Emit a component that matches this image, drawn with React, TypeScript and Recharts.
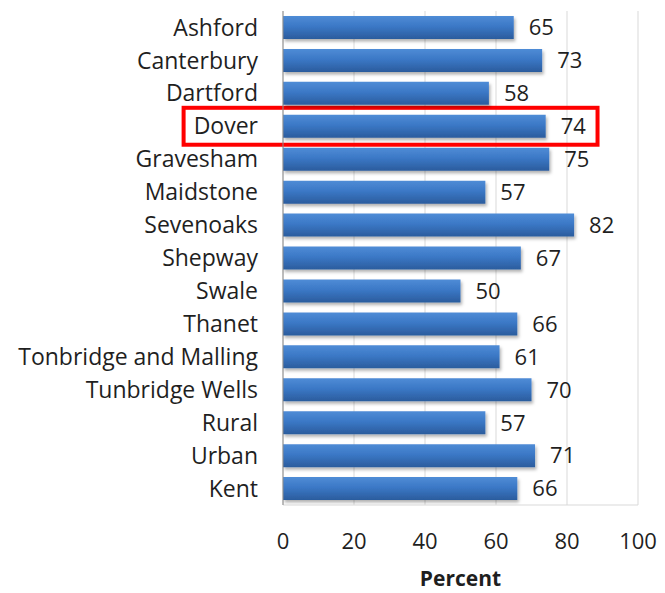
import React from 'react';
import { BarChart, Bar, XAxis, YAxis, CartesianGrid, LabelList, ReferenceArea } from 'recharts';

const categories = ['Ashford', 'Canterbury', 'Dartford', 'Dover', 'Gravesham', 'Maidstone', 'Sevenoaks', 'Shepway', 'Swale', 'Thanet', 'Tonbridge and Malling', 'Tunbridge Wells', 'Rural', 'Urban', 'Kent'];
const values = [65, 73, 58, 74, 75, 57, 82, 67, 50, 66, 61, 70, 57, 71, 66];
const xTicks = [0, 20, 40, 60, 80, 100];
const highlighted = 'Dover';
const highlightFrom = -28;
const highlightTo = 88.6;

const data = categories.map((name, i) => ({ name, value: values[i] }));

const FONT = '"Open Sans", "Noto Sans", sans-serif';

const HighlightBox = (props: any) => {
  const { x, y, width, height } = props;
  return <rect x={x} y={y - 2} width={width} height={height + 4} fill="none" stroke="#ff0000" strokeWidth={4} />;
};

export default function App() {
  return (
    <div style={{ position: 'absolute', left: 0, top: 0, background: '#fff' }}>
      <BarChart
        width={665}
        height={593}
        data={data}
        layout="vertical"
        margin={{ top: 11, right: 27, left: 0, bottom: 0 }}
        barSize={23}
      >
        <defs>
          <linearGradient id="barGrad" x1="0" y1="0" x2="0" y2="1">
            <stop offset="0%" stopColor="#4f8cd6" />
            <stop offset="45%" stopColor="#3b78c6" />
            <stop offset="100%" stopColor="#2b5c9d" />
          </linearGradient>
          <filter id="shadow" x="-5%" y="-20%" width="110%" height="160%">
            <feDropShadow dx="1.5" dy="2.5" stdDeviation="1.5" floodColor="#000" floodOpacity="0.3" />
          </filter>
        </defs>
        <CartesianGrid horizontal={false} stroke="#d9d9d9" />
        <XAxis
          type="number"
          domain={[0, 100]}
          ticks={xTicks}
          tickSize={0}
          tickMargin={28}
          axisLine={{ stroke: '#d9d9d9' }}
          tick={{ fontSize: 22, fill: '#1f1f1f', fontFamily: FONT }}
          height={88}
          label={{ value: 'Percent', position: 'insideBottom', offset: 7, style: { fontSize: 21, fontWeight: 700, fill: '#1f1f1f', fontFamily: FONT } }}
        />
        <YAxis
          type="category"
          dataKey="name"
          width={283}
          tickSize={0}
          tickMargin={25}
          axisLine={{ stroke: '#8c8c8c' }}
          interval={0}
          tick={{ fontSize: 23, fill: '#1f1f1f', fontFamily: FONT }}
        />
        <Bar dataKey="value" fill="url(#barGrad)" filter="url(#shadow)" isAnimationActive={false}>
          <LabelList dataKey="value" position="right" offset={15} style={{ fontSize: 22, fill: '#1f1f1f', fontFamily: FONT }} />
        </Bar>
        <ReferenceArea
          x1={highlightFrom}
          x2={highlightTo}
          y1={highlighted}
          y2={highlighted}
          ifOverflow="visible"
          shape={<HighlightBox />}
        />
      </BarChart>
    </div>
  );
}
